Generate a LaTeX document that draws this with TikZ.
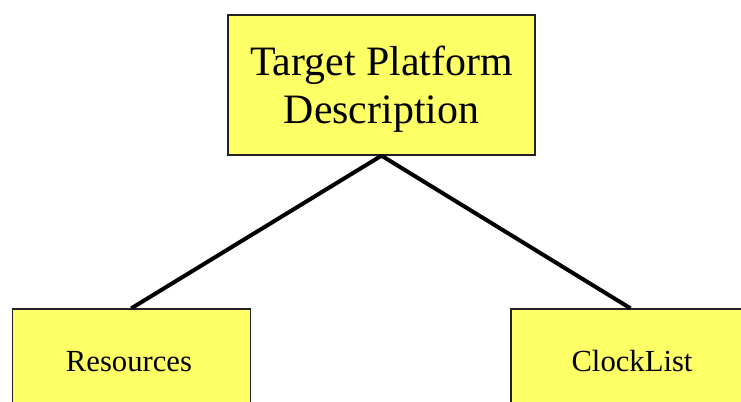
\documentclass[tikz,border=0pt]{standalone}
\usepackage{fontspec}
\setmainfont{Liberation Serif}
\definecolor{boxyellow}{HTML}{FFFF66}
\definecolor{boxline}{HTML}{222222}
\begin{document}
\begin{tikzpicture}[x=0.75pt,y=-0.75pt,
  box/.style={draw=boxline,line width=1pt,fill=boxyellow,rectangle,inner sep=0pt},
  link/.style={line width=3pt,black},
  toptext/.style={font=\fontsize{31.4}{36}\selectfont,align=center,inner sep=0pt},
  bottext/.style={font=\fontsize{23}{27}\selectfont,inner sep=0pt,anchor=base}]
\useasboundingbox (0,0) rectangle (741,401);
\clip (0,0) rectangle (741,401);
\fill[white] (0,0) rectangle (741,401);
\node[box,minimum width=230.25pt,minimum height=105pt] (top) at (381.5,85) {};
\node[box,minimum width=178.5pt,minimum height=105pt] (left) at (131.25,379) {};
\node[box,minimum width=179.25pt,minimum height=105pt] (right) at (630.5,379) {};
\node[toptext] (toplabel) at (381.5,89) {Target Platform\\Description};
\node[bottext] (lefttext) at (129,371) {Resources};
\node[bottext] (righttext) at (632,371) {ClockList};
\draw[link] (top.south) -- (left.north);
\draw[link] (top.south) -- (right.north);
\end{tikzpicture}
\end{document}
